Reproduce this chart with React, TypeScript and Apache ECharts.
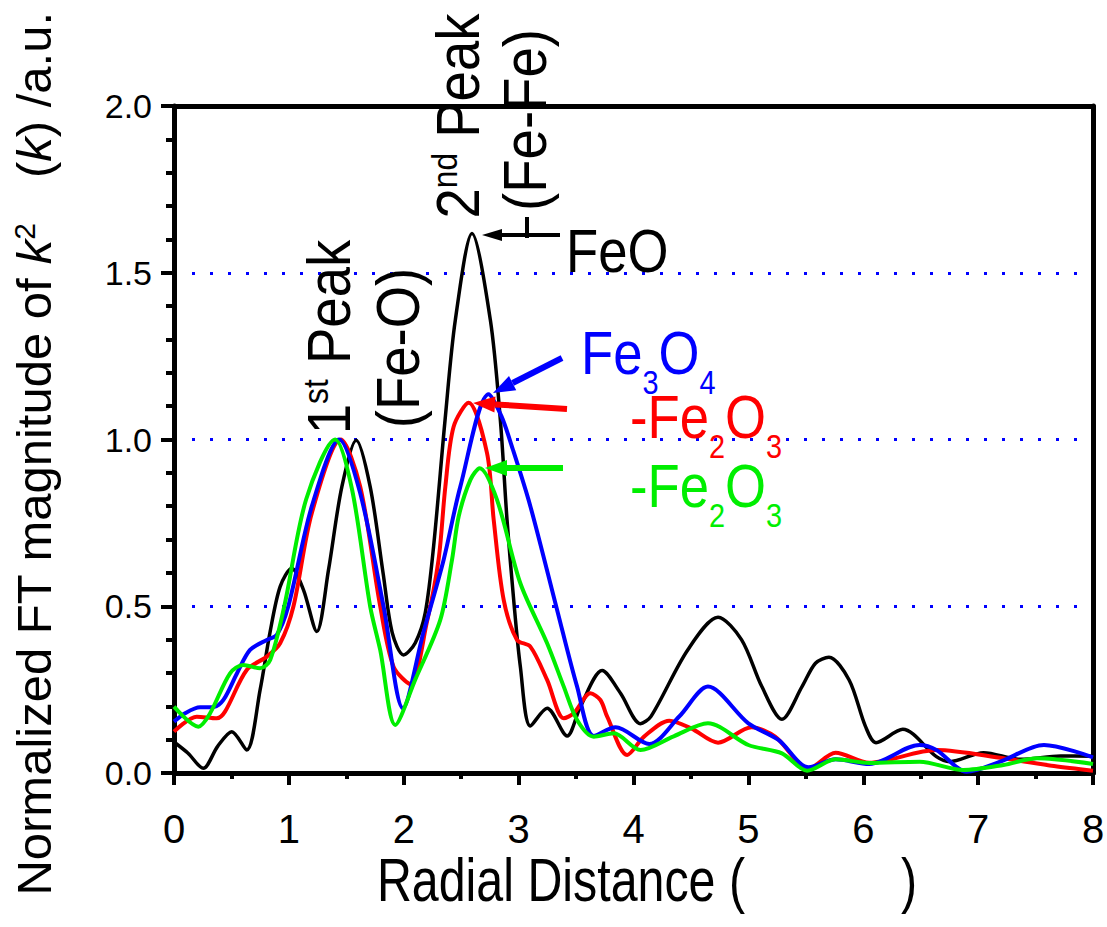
import React, { useEffect, useRef } from "react";
import * as echarts from "echarts";

// Radial distance (x) vs normalized FT magnitude (y)
const feo: [number, number][] = [
  [0, 0.093], [0.12, 0.06], [0.255, 0.014], [0.38, 0.08], [0.503, 0.124], [0.633, 0.069],
  [0.75, 0.25], [0.837, 0.424], [0.924, 0.559], [1.025, 0.614], [1.127, 0.549], [1.243, 0.424],
  [1.345, 0.609], [1.461, 0.858], [1.586, 0.998], [1.708, 0.858], [1.82, 0.6], [1.9, 0.42],
  [1.998, 0.354], [2.1, 0.39], [2.187, 0.48], [2.26, 0.68], [2.36, 1.06], [2.449, 1.358],
  [2.594, 1.618], [2.754, 1.358], [2.841, 1.058], [2.899, 0.759], [2.957, 0.519], [3.015, 0.319],
  [3.102, 0.141], [3.248, 0.194], [3.422, 0.111], [3.538, 0.199], [3.727, 0.307], [3.887, 0.239],
  [4.06, 0.148], [4.151, 0.169], [4.472, 0.369], [4.736, 0.467], [4.94, 0.4], [5.116, 0.26],
  [5.292, 0.161], [5.467, 0.259], [5.584, 0.329], [5.701, 0.347], [5.877, 0.279], [6.02, 0.139],
  [6.111, 0.091], [6.344, 0.131], [6.637, 0.049], [6.754, 0.034], [7.047, 0.061], [7.368, 0.041],
  [7.718, 0.051], [8, 0.05],
];

const fe3o4: [number, number][] = [
  [0, 0.154], [0.1, 0.18], [0.227, 0.197], [0.342, 0.197], [0.43, 0.219], [0.55, 0.3],
  [0.662, 0.369], [0.808, 0.399], [0.895, 0.414], [0.995, 0.5], [1.2, 0.8], [1.438, 1.0],
  [1.62, 0.84], [1.824, 0.5], [1.993, 0.194], [2.17, 0.42], [2.347, 0.639], [2.492, 0.858],
  [2.739, 1.136], [2.85, 1.07], [2.95, 0.97], [3.102, 0.8], [3.335, 0.489], [3.509, 0.259],
  [3.654, 0.111], [3.844, 0.137], [4.137, 0.087], [4.4, 0.17], [4.648, 0.259], [5.0, 0.149],
  [5.262, 0.099], [5.525, 0.017], [5.759, 0.041], [6.052, 0.027], [6.491, 0.084], [6.637, 0.069],
  [6.9, 0.004], [7.192, 0.034], [7.573, 0.084], [8, 0.047],
];

const alphaFe2o3: [number, number][] = [
  [0, 0.124], [0.198, 0.169], [0.372, 0.164], [0.444, 0.184], [0.633, 0.309], [0.808, 0.349],
  [0.924, 0.389], [1.04, 0.5], [1.2, 0.78], [1.452, 1.0], [1.62, 0.86], [1.795, 0.5],
  [1.911, 0.319], [2.057, 0.267], [2.2, 0.45], [2.303, 0.639], [2.362, 0.858], [2.434, 1.038],
  [2.565, 1.11], [2.725, 0.959], [2.783, 0.759], [2.87, 0.519], [2.986, 0.399], [3.102, 0.379],
  [3.248, 0.279], [3.393, 0.164], [3.48, 0.179], [3.625, 0.239], [3.712, 0.219], [3.771, 0.169],
  [3.945, 0.054], [4.092, 0.109], [4.312, 0.157], [4.502, 0.134], [4.736, 0.091], [5.028, 0.137],
  [5.233, 0.109], [5.525, 0.014], [5.759, 0.061], [6.052, 0.031], [6.637, 0.069], [7.221, 0.044],
  [7.66, 0.021], [8, 0.007],
];

const gammaFe2o3: [number, number][] = [
  [0, 0.199], [0.212, 0.139], [0.314, 0.179], [0.488, 0.299], [0.604, 0.324], [0.749, 0.314],
  [0.837, 0.339], [0.96, 0.5], [1.15, 0.82], [1.403, 1.0], [1.55, 0.85], [1.708, 0.499],
  [1.795, 0.369], [1.926, 0.144], [2.1, 0.28], [2.318, 0.459], [2.42, 0.639], [2.478, 0.769],
  [2.58, 0.879], [2.661, 0.914], [2.812, 0.819], [3.015, 0.569], [3.248, 0.389], [3.393, 0.259],
  [3.509, 0.159], [3.654, 0.109], [3.828, 0.119], [4.061, 0.069], [4.35, 0.11], [4.648, 0.149],
  [5.0, 0.084], [5.292, 0.059], [5.511, 0.007], [5.759, 0.041], [6.052, 0.03], [6.491, 0.034],
  [6.87, 0.009], [7.221, 0.024], [7.514, 0.044], [8, 0.027],
];

const SANS = "'Liberation Sans', Arial, sans-serif";

function arrow(x1: number, y1: number, x2: number, y2: number, color: string, w: number, head: number, hw: number) {
  const dx = x2 - x1, dy = y2 - y1;
  const len = Math.hypot(dx, dy);
  const ux = dx / len, uy = dy / len;
  const bx = x2 - ux * head, by = y2 - uy * head;
  const px = -uy * hw, py = ux * hw;
  return [
    { type: "line", shape: { x1, y1, x2: bx, y2: by }, style: { stroke: color, lineWidth: w }, z: 50 },
    { type: "polygon", shape: { points: [[x2, y2], [bx + px, by + py], [bx - px, by - py]] }, style: { fill: color }, z: 50 },
  ];
}

export default function App() {
  const ref = useRef<HTMLDivElement>(null);
  useEffect(() => {
    const chart = echarts.init(ref.current!, null, { renderer: "svg" });
    const lineSeries = (name: string, data: [number, number][], color: string, width: number) => ({
      name, type: "line", data, smooth: 0.3, symbol: "none",
      lineStyle: { color, width }, itemStyle: { color }, z: 3,
    });
    const rotatedTitle = (text: string, x: number, y: number) => ({
      type: "text", x, y, rotation: Math.PI / 2, scaleX: 0.88, z: 60,
      style: {
        text, fill: "#000", align: "center", verticalAlign: "top",
        rich: {
          m: { fontSize: 62, fontFamily: SANS, lineHeight: 62, verticalAlign: "top" },
          sup: { fontSize: 36, fontFamily: SANS, lineHeight: 14, verticalAlign: "top" },
        },
      },
    });
    const formula = (text: string, x: number, y: number, color: string) => ({
      type: "text", x, y, scaleX: 0.85, z: 60,
      style: {
        text, fill: color, align: "left", verticalAlign: "top",
        rich: {
          m: { fontSize: 62, fontFamily: SANS, color, lineHeight: 62, verticalAlign: "top" },
          sub: { fontSize: 34, fontFamily: SANS, color, lineHeight: 78, verticalAlign: "bottom" },
        },
      },
    });
    chart.setOption({
      animation: false,
      backgroundColor: "#fff",
      grid: { left: 174, right: 14, top: 106, bottom: 154, show: false, outerBoundsMode: "none", containLabel: false },
      xAxis: [
        {
          type: "value", min: 0, max: 8, interval: 1, position: "bottom",
          axisLine: { show: true, onZero: false, lineStyle: { color: "#000", width: 5 } },
          axisTick: { show: true, inside: false, length: 12, lineStyle: { color: "#000", width: 4 } },
          minorTick: { show: true, splitNumber: 2, length: 6, lineStyle: { color: "#000", width: 4 } },
          axisLabel: { fontFamily: SANS, fontSize: 40, color: "#000", margin: 36 },
          splitLine: { show: false },
        },
        {
          type: "value", min: 0, max: 8, interval: 1, position: "top",
          axisLine: { show: true, onZero: false, lineStyle: { color: "#000", width: 5 } },
          axisTick: { show: false }, axisLabel: { show: false }, splitLine: { show: false },
        },
      ],
      yAxis: [
        {
          type: "value", min: 0, max: 2, interval: 0.5, position: "left",
          axisLine: { show: true, onZero: false, lineStyle: { color: "#000", width: 5 } },
          axisTick: { show: true, inside: false, length: 13, lineStyle: { color: "#000", width: 4 } },
          minorTick: { show: true, splitNumber: 5, length: 8, lineStyle: { color: "#000", width: 4 } },
          axisLabel: { fontFamily: SANS, fontSize: 34, color: "#000", margin: 22, formatter: (v: number) => v.toFixed(1) },
          splitLine: { show: true, lineStyle: { color: "#0000ff", width: 3, type: [3, 15] } },
        },
        {
          type: "value", min: 0, max: 2, interval: 0.5, position: "right",
          axisLine: { show: true, onZero: false, lineStyle: { color: "#000", width: 5 } },
          axisTick: { show: false }, axisLabel: { show: false }, splitLine: { show: false },
        },
      ],
      series: [
        lineSeries("FeO", feo, "#000000", 3.5),
        lineSeries("α-Fe2O3", alphaFe2o3, "#ff0000", 4),
        lineSeries("Fe3O4", fe3o4, "#0000ff", 4),
        lineSeries("γ-Fe2O3", gammaFe2o3, "#00ee00", 4),
      ],
      graphic: [
        // axis titles
        {
          type: "text", x: 647, y: 880, scaleX: 0.78, z: 60,
          style: {
            text: "{m|Radial Distance (}{g| }{m|)}", align: "center", verticalAlign: "middle", fill: "#000",
            rich: {
              m: { fontSize: 62, fontFamily: SANS, color: "#000" },
              g: { fontSize: 62, fontFamily: SANS, width: 200 },
            },
          },
        },
        {
          type: "text", x: 34, y: 454, rotation: Math.PI / 2, z: 60,
          style: {
            text: "{m|Normalized FT magnitude of }{i|k}{s|2}{g| }{m|(}{i|k}{m|) /a.u.}",
            align: "center", verticalAlign: "middle", fill: "#000",
            rich: {
              m: { fontSize: 49, fontFamily: SANS, color: "#000", lineHeight: 50, verticalAlign: "top" },
              i: { fontSize: 49, fontFamily: SANS, fontStyle: "italic", color: "#000", lineHeight: 50, verticalAlign: "top" },
              s: { fontSize: 30, fontFamily: SANS, color: "#000", lineHeight: 12, verticalAlign: "top" },
              g: { fontSize: 49, width: 45, lineHeight: 50 },
            },
          },
        },
        // peak labels
        rotatedTitle("{m|1}{sup|st}{m| Peak}", 297, 337),
        rotatedTitle("{m|(Fe-O)}", 366, 348),
        rotatedTitle("{m|2}{sup|nd}{m| Peak}", 426, 116),
        rotatedTitle("{m|(Fe-Fe)}", 493, 120),
        { type: "line", shape: { x1: 527, y1: 217, x2: 527, y2: 238 }, style: { stroke: "#000", lineWidth: 4 }, z: 50 },
        ...arrow(560, 235, 482, 235, "#000", 4, 20, 6),
        ...arrow(562, 358, 493, 393, "#0000ff", 6, 22, 8),
        ...arrow(567, 409, 473, 403, "#ff0000", 6, 22, 8),
        ...arrow(563, 468, 485, 468, "#00ee00", 6, 22, 8),
        formula("{m|FeO}", 566, 219, "#000"),
        formula("{m|Fe}{sub|3}{m|O}{sub|4}", 581, 321, "#0000ff"),
        formula("{m|-Fe}{sub|2}{m|O}{sub|3}", 630, 385, "#ff0000"),
        formula("{m|-Fe}{sub|2}{m|O}{sub|3}", 630, 454, "#00ee00"),
      ],
    });
    return () => chart.dispose();
  }, []);
  return <div ref={ref} style={{ position: "absolute", left: 0, top: 0, width: 1107, height: 927 }} />;
}
